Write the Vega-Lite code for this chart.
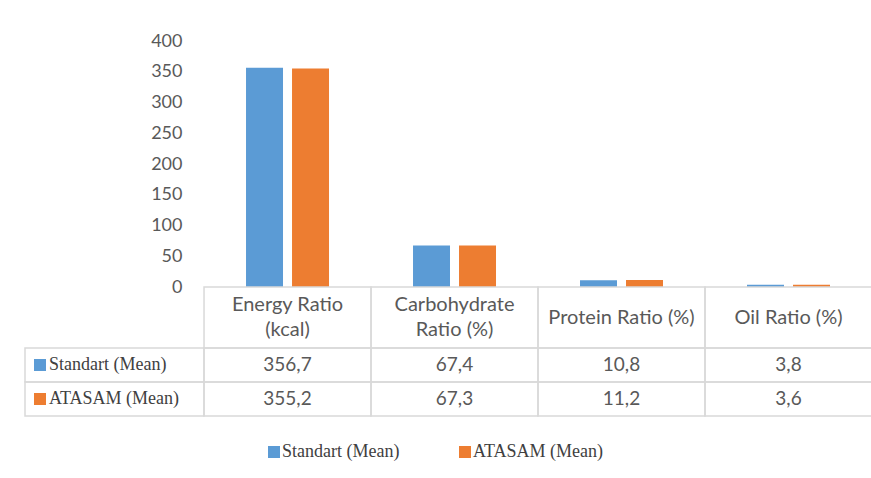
{
  "$schema": "https://vega.github.io/schema/vega-lite/v6.json",
  "padding": {"left": 24, "top": 32, "right": 0, "bottom": 0},
  "autosize": {"type": "pad"},
  "background": "white",
  "config": {
    "view": {"stroke": null},
    "font": "Lato",
    "locale": {"number": {"decimal": ",", "thousands": ".", "grouping": [3], "currency": ["", ""]}}
  },
  "datasets": {
    "nutrients": [
      {"nutrient": "Energy Ratio (kcal)", "series": "Standart (Mean)", "value": 356.7},
      {"nutrient": "Energy Ratio (kcal)", "series": "ATASAM (Mean)", "value": 355.2},
      {"nutrient": "Carbohydrate Ratio (%)", "series": "Standart (Mean)", "value": 67.4},
      {"nutrient": "Carbohydrate Ratio (%)", "series": "ATASAM (Mean)", "value": 67.3},
      {"nutrient": "Protein Ratio (%)", "series": "Standart (Mean)", "value": 10.8},
      {"nutrient": "Protein Ratio (%)", "series": "ATASAM (Mean)", "value": 11.2},
      {"nutrient": "Oil Ratio (%)", "series": "Standart (Mean)", "value": 3.8},
      {"nutrient": "Oil Ratio (%)", "series": "ATASAM (Mean)", "value": 3.6}
    ],
    "header": [
      {"nutrient": "Energy Ratio (kcal)", "label": "Energy Ratio\n(kcal)", "lines": 2},
      {"nutrient": "Carbohydrate Ratio (%)", "label": "Carbohydrate\nRatio (%)", "lines": 2},
      {"nutrient": "Protein Ratio (%)", "label": "Protein Ratio (%)", "lines": 1},
      {"nutrient": "Oil Ratio (%)", "label": "Oil Ratio (%)", "lines": 1}
    ],
    "series": [
      {"series": "Standart (Mean)"},
      {"series": "ATASAM (Mean)"}
    ]
  },
  "spacing": 0,
  "bounds": "flush",
  "resolve": {"scale": {"color": "independent"}},
  "vconcat": [
    {
      "width": 847,
      "height": 246,
      "data": {"name": "nutrients"},
      "mark": {"type": "bar"},
      "encoding": {
        "x": {"field": "nutrient", "type": "nominal", "sort": null,
          "scale": {"domain": ["Energy Ratio (kcal)", "Carbohydrate Ratio (%)", "Protein Ratio (%)", "Oil Ratio (%)"], "paddingInner": 0, "paddingOuter": 0.536, "align": 1},
          "axis": null},
        "xOffset": {"field": "series", "type": "nominal",
          "scale": {"domain": ["Standart (Mean)", "ATASAM (Mean)"], "paddingInner": 0.196, "paddingOuter": 0.913}},
        "y": {"field": "value", "type": "quantitative",
          "scale": {"domain": [0, 400], "nice": false},
          "axis": {"values": [0, 50, 100, 150, 200, 250, 300, 350, 400], "title": null, "grid": false, "domain": false, "ticks": false, "offset": -179, "labelPadding": 22, "labelFontSize": 18, "labelColor": "#595959", "labelFont": "Lato"}},
        "color": {"field": "series", "type": "nominal",
          "scale": {"domain": ["Standart (Mean)", "ATASAM (Mean)"], "range": ["#5B9BD5", "#ED7D31"]},
          "legend": {"orient": "none", "legendX": 240, "legendY": 402, "direction": "horizontal", "title": null, "symbolType": "square", "symbolSize": 144, "symbolStrokeWidth": 0, "labelFont": "Liberation Serif", "labelFontSize": 18, "labelColor": "#404040", "columnPadding": 56, "labelOffset": -1}}
      }
    },
    {
      "width": 847,
      "height": 61,
      "data": {"name": "header"},
      "encoding": {
        "x": {"field": "nutrient", "type": "nominal", "sort": null,
          "scale": {"domain": ["Energy Ratio (kcal)", "Carbohydrate Ratio (%)", "Protein Ratio (%)", "Oil Ratio (%)"], "paddingInner": 0, "paddingOuter": 0.536, "align": 1},
          "axis": null}
      },
      "layer": [
        {"mark": {"type": "rect", "fill": "white", "fillOpacity": 0, "stroke": "#D9D9D9", "strokeWidth": 1.5}},
        {"transform": [{"filter": "datum.lines == 2"}],
          "mark": {"type": "text", "lineBreak": "\n", "lineHeight": 25, "fontSize": 20, "color": "#595959", "dy": -12.5},
          "encoding": {"text": {"field": "label", "type": "nominal"}}},
        {"transform": [{"filter": "datum.lines == 1"}],
          "mark": {"type": "text", "fontSize": 20, "color": "#595959"},
          "encoding": {"text": {"field": "label", "type": "nominal"}}}
      ]
    },
    {
      "spacing": 0,
      "bounds": "flush",
      "resolve": {"scale": {"color": "independent"}},
      "hconcat": [
        {
          "width": 179,
          "height": 68,
          "data": {"name": "series"},
          "encoding": {
            "y": {"field": "series", "type": "nominal", "sort": null,
              "scale": {"domain": ["Standart (Mean)", "ATASAM (Mean)"], "paddingInner": 0, "paddingOuter": 0},
              "axis": null}
          },
          "layer": [
            {"mark": {"type": "rect", "fill": "white", "fillOpacity": 0, "stroke": "#D9D9D9", "strokeWidth": 1.5}},
            {"mark": {"type": "point", "shape": "square", "size": 144, "filled": true, "opacity": 1},
              "encoding": {
                "x": {"datum": "sq", "type": "nominal", "scale": {"type": "point", "domain": ["sq", "txt"], "range": [15, 24], "padding": 0}, "axis": null},
                "color": {"field": "series", "type": "nominal", "scale": {"domain": ["Standart (Mean)", "ATASAM (Mean)"], "range": ["#5B9BD5", "#ED7D31"]}, "legend": null}
              }},
            {"mark": {"type": "text", "align": "left", "font": "Liberation Serif", "fontSize": 18, "color": "#404040"},
              "encoding": {
                "x": {"datum": "txt", "type": "nominal"},
                "text": {"field": "series", "type": "nominal"}
              }}
          ]
        },
        {
          "width": 668,
          "height": 68,
          "data": {"name": "nutrients"},
          "encoding": {
            "x": {"field": "nutrient", "type": "nominal", "sort": null,
              "scale": {"domain": ["Energy Ratio (kcal)", "Carbohydrate Ratio (%)", "Protein Ratio (%)", "Oil Ratio (%)"], "paddingInner": 0, "paddingOuter": 0},
              "axis": null},
            "y": {"field": "series", "type": "nominal", "sort": null,
              "scale": {"domain": ["Standart (Mean)", "ATASAM (Mean)"], "paddingInner": 0, "paddingOuter": 0},
              "axis": null}
          },
          "layer": [
            {"mark": {"type": "rect", "fill": "white", "fillOpacity": 0, "stroke": "#D9D9D9", "strokeWidth": 1.5}},
            {"mark": {"type": "text", "fontSize": 19, "color": "#595959"},
              "encoding": {"text": {"field": "value", "type": "quantitative", "format": ".1f"}}}
          ]
        }
      ]
    }
  ]
}
